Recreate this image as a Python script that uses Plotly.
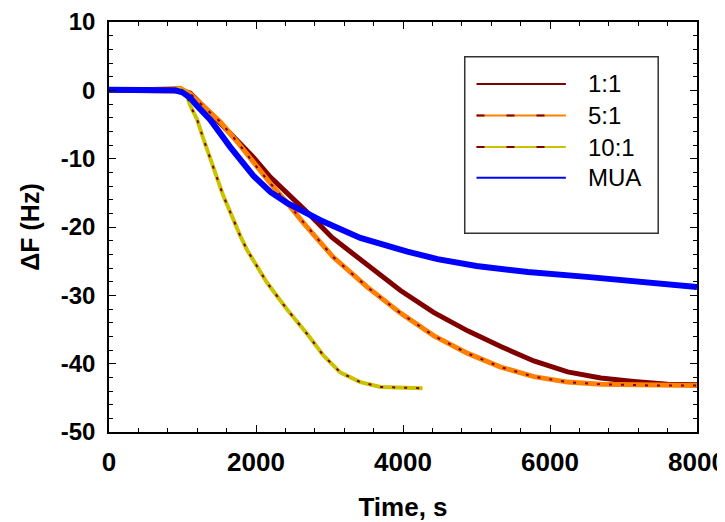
import plotly.graph_objects as go

# ---- data ----
t_11 = [0, 500, 1000, 1104, 1281, 1513, 1750, 1963, 2195, 2426, 2740, 3030, 3515, 3966, 4416, 4880, 5330, 5780, 6240, 6690, 7140, 7600, 8000]
v_11 = [0.0, 0.0, -0.1, -0.4, -2.4, -4.8, -7.4, -9.8, -12.7, -15.0, -18.3, -21.5, -25.6, -29.3, -32.5, -35.2, -37.5, -39.6, -41.2, -42.1, -42.6, -43.0, -43.1]

t_51 = [0, 500, 970, 1104, 1300, 1513, 1750, 1963, 2195, 2426, 2645, 3050, 3515, 3966, 4416, 4880, 5330, 5780, 6240, 6690, 7400, 8000]
v_51 = [0.1, 0.1, 0.3, -0.5, -2.5, -4.6, -7.6, -10.6, -13.6, -16.5, -19.4, -24.4, -28.8, -32.6, -35.9, -38.5, -40.5, -41.9, -42.7, -43.0, -43.2, -43.2]

t_101 = [0, 500, 970, 1050, 1104, 1200, 1281, 1377, 1554, 1786, 1880, 2153, 2426, 2700, 2917, 3150, 3420, 3694, 4266]
v_101 = [0.0, 0.0, 0.2, -0.4, -2.2, -4.3, -7.0, -10.0, -15.4, -21.3, -23.4, -28.2, -32.1, -35.7, -38.8, -41.3, -42.7, -43.4, -43.6]

t_mua = [0, 500, 900, 1000, 1104, 1200, 1377, 1650, 1963, 2200, 2426, 2876, 3150, 3420, 4060, 4470, 5000, 5700, 6500, 7050, 7500, 8000]
v_mua = [0.1, 0.1, 0.0, -0.3, -1.1, -2.3, -4.3, -8.3, -12.5, -14.9, -16.5, -19.0, -20.4, -21.6, -23.6, -24.7, -25.7, -26.6, -27.3, -27.8, -28.2, -28.8]

series_names = ["1:1", "5:1", "10:1", "MUA"]
x_ticks = [0, 2000, 4000, 6000, 8000]
y_ticks = [-50, -40, -30, -20, -10, 0, 10]

DARKRED = "#800000"
ORANGE = "#FF8000"
YELLOW = "#C8C400"
BLUE = "#0000FF"
FONT = "Arial, Liberation Sans, sans-serif"

fig = go.Figure()

# 1:1
fig.add_trace(go.Scatter(x=t_11, y=v_11, mode="lines", line=dict(color=DARKRED, width=5),
                         name=series_names[0], showlegend=False))
# 5:1
fig.add_trace(go.Scatter(x=t_51, y=v_51, mode="lines", line=dict(color=ORANGE, width=5),
                         name=series_names[1], showlegend=False))
fig.add_trace(go.Scatter(x=t_51, y=v_51, mode="lines", line=dict(color=DARKRED, width=2, dash="3px,9px"),
                         showlegend=False, hoverinfo="skip"))
# 10:1
fig.add_trace(go.Scatter(x=t_101, y=v_101, mode="lines", line=dict(color=YELLOW, width=4),
                         name=series_names[2], showlegend=False))
fig.add_trace(go.Scatter(x=t_101, y=v_101, mode="lines", line=dict(color=DARKRED, width=2, dash="3px,9px"),
                         showlegend=False, hoverinfo="skip"))
# MUA
fig.add_trace(go.Scatter(x=t_mua, y=v_mua, mode="lines", line=dict(color=BLUE, width=6),
                         name=series_names[3], showlegend=False))

# ---- manual legend (paper coords) ----
lx0, lx1, ly0, ly1 = 0.605, 0.934, 0.485, 0.915
fig.add_shape(type="rect", xref="paper", yref="paper", x0=lx0, x1=lx1, y0=ly0, y1=ly1,
              line=dict(color="#333333", width=1.5), fillcolor="white", layer="above")
entry_y = [0.849, 0.772, 0.695, 0.620]
samples = [
    [(DARKRED, None)],
    [(ORANGE, None), (DARKRED, "8px,22px")],
    [(YELLOW, None), (DARKRED, "8px,22px")],
    [(BLUE, None)],
]
for yy, name, segs in zip(entry_y, series_names, samples):
    for col, dash in segs:
        ln = dict(color=col, width=2)
        if dash:
            ln["dash"] = dash
        fig.add_shape(type="line", xref="paper", yref="paper", x0=0.625, x1=0.777, y0=yy, y1=yy,
                      line=ln, layer="above")
    fig.add_annotation(xref="paper", yref="paper", x=0.812, y=yy, text=name, showarrow=False,
                       xanchor="left", yanchor="middle", font=dict(family=FONT, size=24, color="black"))

axis_common = dict(
    showline=True, linecolor="black", linewidth=1.5, mirror="ticks",
    ticks="inside", ticklen=7, tickwidth=1.2, tickcolor="black",
    showgrid=False, zeroline=False, automargin=False, ticklabeloverflow="allow",
)

fig.update_xaxes(
    range=[0, 8000], tickvals=x_ticks, ticktext=[str(v) for v in x_ticks],
    minor=dict(dtick=400, ticks="inside", ticklen=4, tickwidth=1, tickcolor="black", showgrid=False),
    tickfont=dict(family=FONT, size=26, color="black", weight="bold"),
    ticklabelstandoff=6,
    title=dict(text="Time, s", font=dict(family=FONT, size=26, color="black", weight="bold"), standoff=22),
    **axis_common,
)
fig.update_yaxes(
    range=[-50, 10], tickvals=y_ticks, ticktext=[str(v) for v in y_ticks],
    minor=dict(dtick=2, ticks="inside", ticklen=4, tickwidth=1, tickcolor="black", showgrid=False),
    tickfont=dict(family=FONT, size=24, color="black", weight="bold"),
    ticklabelstandoff=7,
    title=dict(text="ΔF (Hz)", font=dict(family=FONT, size=25, color="black", weight="bold"), standoff=14),
    **axis_common,
)

# the page body has an 8px margin, so the figure is sized to fit the 725x522 window
fig.update_layout(
    width=717, height=514, autosize=False,
    margin=dict(l=101, r=28, t=14, b=90),
    plot_bgcolor="white", paper_bgcolor="white",
    showlegend=False,
)

fig.write_html("out.html")
